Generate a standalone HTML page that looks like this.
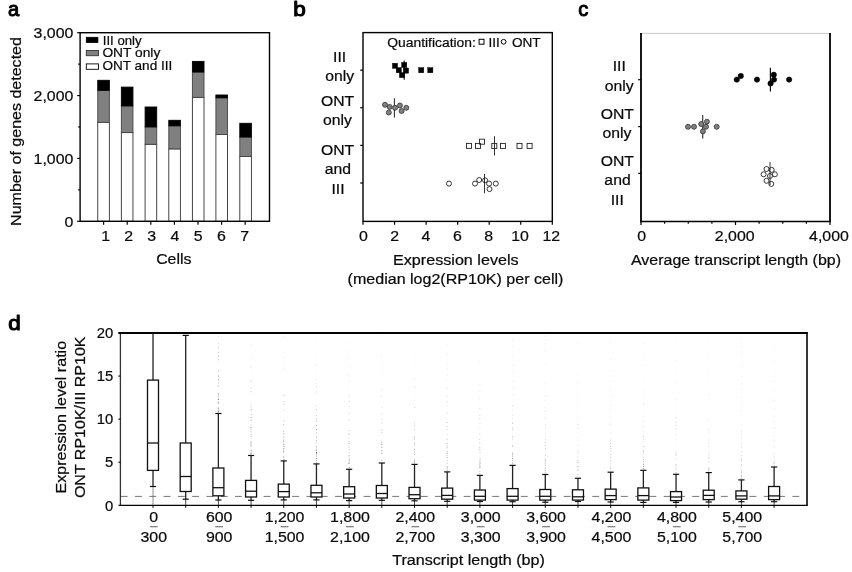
<!DOCTYPE html>
<html lang="en">
<head>
<meta charset="utf-8">
<title>Figure</title>
<style>
html,body{margin:0;padding:0;background:#fff;}
body{width:852px;height:572px;overflow:hidden;font-family:'Liberation Sans', sans-serif;}
svg{display:block;font-family:'Liberation Sans', sans-serif;will-change:transform;opacity:0.999;}
</style>
</head>
<body>
<svg width="852" height="572" viewBox="0 0 852 572">
<rect x="0" y="0" width="852" height="572" fill="#ffffff"/>
<text transform="translate(7.90,16.20) scale(0.96,1)" font-size="21.0" text-anchor="start" fill="#000" stroke="#000" stroke-width="1.0" stroke-linejoin="round">a</text>
<text transform="translate(293.30,16.00) scale(1.07,1)" font-size="21.0" text-anchor="start" fill="#000" stroke="#000" stroke-width="1.1" stroke-linejoin="round">b</text>
<text transform="translate(578.20,16.00) scale(0.96,1)" font-size="21.0" text-anchor="start" fill="#000" stroke="#000" stroke-width="1.0" stroke-linejoin="round">c</text>
<text transform="translate(8.30,330.30) scale(1.07,1)" font-size="21.0" text-anchor="start" fill="#000" stroke="#000" stroke-width="1.1" stroke-linejoin="round">d</text>
<rect x="97.75" y="122.30" width="11.60" height="99.00" fill="#fff" stroke="#333" stroke-width="0.9"/>
<rect x="97.75" y="90.30" width="11.60" height="32.00" fill="#808080" stroke="#444" stroke-width="0.9"/>
<rect x="97.75" y="80.30" width="11.60" height="10.00" fill="#000" stroke="#000" stroke-width="0.9"/>
<rect x="121.35" y="132.60" width="11.60" height="88.70" fill="#fff" stroke="#333" stroke-width="0.9"/>
<rect x="121.35" y="105.90" width="11.60" height="26.70" fill="#808080" stroke="#444" stroke-width="0.9"/>
<rect x="121.35" y="87.10" width="11.60" height="18.80" fill="#000" stroke="#000" stroke-width="0.9"/>
<rect x="145.10" y="144.30" width="11.60" height="77.00" fill="#fff" stroke="#333" stroke-width="0.9"/>
<rect x="145.10" y="126.90" width="11.60" height="17.40" fill="#808080" stroke="#444" stroke-width="0.9"/>
<rect x="145.10" y="107.00" width="11.60" height="19.90" fill="#000" stroke="#000" stroke-width="0.9"/>
<rect x="168.80" y="148.90" width="11.60" height="72.40" fill="#fff" stroke="#333" stroke-width="0.9"/>
<rect x="168.80" y="125.80" width="11.60" height="23.10" fill="#808080" stroke="#444" stroke-width="0.9"/>
<rect x="168.80" y="120.30" width="11.60" height="5.50" fill="#000" stroke="#000" stroke-width="0.9"/>
<rect x="192.40" y="97.40" width="11.60" height="123.90" fill="#fff" stroke="#333" stroke-width="0.9"/>
<rect x="192.40" y="72.00" width="11.60" height="25.40" fill="#808080" stroke="#444" stroke-width="0.9"/>
<rect x="192.40" y="61.40" width="11.60" height="10.60" fill="#000" stroke="#000" stroke-width="0.9"/>
<rect x="215.90" y="134.50" width="11.60" height="86.80" fill="#fff" stroke="#333" stroke-width="0.9"/>
<rect x="215.90" y="97.80" width="11.60" height="36.70" fill="#808080" stroke="#444" stroke-width="0.9"/>
<rect x="215.90" y="95.00" width="11.60" height="2.80" fill="#000" stroke="#000" stroke-width="0.9"/>
<rect x="239.80" y="156.50" width="11.60" height="64.80" fill="#fff" stroke="#333" stroke-width="0.9"/>
<rect x="239.80" y="137.00" width="11.60" height="19.50" fill="#808080" stroke="#444" stroke-width="0.9"/>
<rect x="239.80" y="123.30" width="11.60" height="13.70" fill="#000" stroke="#000" stroke-width="0.9"/>
<rect x="80.10" y="32.70" width="189.40" height="188.60" fill="none" stroke="#000" stroke-width="1.4"/>
<line x1="77.20" y1="221.30" x2="80.10" y2="221.30" stroke="#000" stroke-width="1.2" />
<line x1="78.20" y1="189.87" x2="80.10" y2="189.87" stroke="#000" stroke-width="1.2" />
<line x1="77.20" y1="158.43" x2="80.10" y2="158.43" stroke="#000" stroke-width="1.2" />
<line x1="78.20" y1="127.00" x2="80.10" y2="127.00" stroke="#000" stroke-width="1.2" />
<line x1="77.20" y1="95.57" x2="80.10" y2="95.57" stroke="#000" stroke-width="1.2" />
<line x1="78.20" y1="64.13" x2="80.10" y2="64.13" stroke="#000" stroke-width="1.2" />
<line x1="77.20" y1="32.70" x2="80.10" y2="32.70" stroke="#000" stroke-width="1.2" />
<text transform="translate(73.40,38.30) scale(1.04,1)" font-size="15.3" text-anchor="end" font-weight="normal" fill="#0a0a0a" stroke="#0a0a0a" stroke-width="0.22">3,000</text>
<text transform="translate(73.40,101.17) scale(1.04,1)" font-size="15.3" text-anchor="end" font-weight="normal" fill="#0a0a0a" stroke="#0a0a0a" stroke-width="0.22">2,000</text>
<text transform="translate(73.40,164.03) scale(1.04,1)" font-size="15.3" text-anchor="end" font-weight="normal" fill="#0a0a0a" stroke="#0a0a0a" stroke-width="0.22">1,000</text>
<text transform="translate(73.40,226.90) scale(1.04,1)" font-size="15.3" text-anchor="end" font-weight="normal" fill="#0a0a0a" stroke="#0a0a0a" stroke-width="0.22">0</text>
<line x1="103.60" y1="221.30" x2="103.60" y2="224.80" stroke="#000" stroke-width="1.2" />
<text transform="translate(105.70,241.10) scale(1.04,1)" font-size="15.3" text-anchor="middle" font-weight="normal" fill="#0a0a0a" stroke="#0a0a0a" stroke-width="0.22">1</text>
<line x1="127.20" y1="221.30" x2="127.20" y2="224.80" stroke="#000" stroke-width="1.2" />
<text transform="translate(128.60,241.10) scale(1.04,1)" font-size="15.3" text-anchor="middle" font-weight="normal" fill="#0a0a0a" stroke="#0a0a0a" stroke-width="0.22">2</text>
<line x1="150.80" y1="221.30" x2="150.80" y2="224.80" stroke="#000" stroke-width="1.2" />
<text transform="translate(151.80,241.10) scale(1.04,1)" font-size="15.3" text-anchor="middle" font-weight="normal" fill="#0a0a0a" stroke="#0a0a0a" stroke-width="0.22">3</text>
<line x1="174.40" y1="221.30" x2="174.40" y2="224.80" stroke="#000" stroke-width="1.2" />
<text transform="translate(175.00,241.10) scale(1.04,1)" font-size="15.3" text-anchor="middle" font-weight="normal" fill="#0a0a0a" stroke="#0a0a0a" stroke-width="0.22">4</text>
<line x1="198.00" y1="221.30" x2="198.00" y2="224.80" stroke="#000" stroke-width="1.2" />
<text transform="translate(198.20,241.10) scale(1.04,1)" font-size="15.3" text-anchor="middle" font-weight="normal" fill="#0a0a0a" stroke="#0a0a0a" stroke-width="0.22">5</text>
<line x1="221.60" y1="221.30" x2="221.60" y2="224.80" stroke="#000" stroke-width="1.2" />
<text transform="translate(221.40,241.10) scale(1.04,1)" font-size="15.3" text-anchor="middle" font-weight="normal" fill="#0a0a0a" stroke="#0a0a0a" stroke-width="0.22">6</text>
<line x1="245.20" y1="221.30" x2="245.20" y2="224.80" stroke="#000" stroke-width="1.2" />
<text transform="translate(244.60,241.10) scale(1.04,1)" font-size="15.3" text-anchor="middle" font-weight="normal" fill="#0a0a0a" stroke="#0a0a0a" stroke-width="0.22">7</text>
<text transform="translate(173.80,264.20) scale(1.04,1)" font-size="15.3" text-anchor="middle" font-weight="normal" fill="#0a0a0a" stroke="#0a0a0a" stroke-width="0.22">Cells</text>
<text transform="translate(20.80,131.50) rotate(-90) scale(1.048,1)" font-size="15.3" text-anchor="middle" font-weight="normal" fill="#0a0a0a" stroke="#0a0a0a" stroke-width="0.22">Number of genes detected</text>
<rect x="86.30" y="37.30" width="11.60" height="5.20" fill="#000" stroke="#000" stroke-width="0.8"/>
<rect x="86.30" y="50.50" width="12.20" height="5.20" fill="#808080" stroke="#333" stroke-width="0.9"/>
<rect x="86.30" y="63.90" width="12.20" height="5.40" fill="#fff" stroke="#000" stroke-width="0.9"/>
<text transform="translate(102.80,44.80) scale(1.015,1)" font-size="13.0" text-anchor="start" font-weight="normal" fill="#0a0a0a" stroke="#0a0a0a" stroke-width="0.22">III only</text>
<text transform="translate(102.40,57.40) scale(1.06,1)" font-size="13.0" text-anchor="start" font-weight="normal" fill="#0a0a0a" stroke="#0a0a0a" stroke-width="0.22">ONT only</text>
<text transform="translate(102.40,70.30) scale(1.045,1)" font-size="13.0" text-anchor="start" font-weight="normal" fill="#0a0a0a" stroke="#0a0a0a" stroke-width="0.22">ONT and III</text>
<rect x="363.00" y="32.60" width="189.30" height="188.80" fill="none" stroke="#000" stroke-width="1.4"/>
<line x1="363.00" y1="221.40" x2="363.00" y2="224.80" stroke="#000" stroke-width="1.2" />
<text transform="translate(363.40,241.40) scale(1.04,1)" font-size="15.3" text-anchor="middle" font-weight="normal" fill="#0a0a0a" stroke="#0a0a0a" stroke-width="0.22">0</text>
<line x1="394.55" y1="221.40" x2="394.55" y2="224.80" stroke="#000" stroke-width="1.2" />
<text transform="translate(394.72,241.40) scale(1.04,1)" font-size="15.3" text-anchor="middle" font-weight="normal" fill="#0a0a0a" stroke="#0a0a0a" stroke-width="0.22">2</text>
<line x1="426.10" y1="221.40" x2="426.10" y2="224.80" stroke="#000" stroke-width="1.2" />
<text transform="translate(426.04,241.40) scale(1.04,1)" font-size="15.3" text-anchor="middle" font-weight="normal" fill="#0a0a0a" stroke="#0a0a0a" stroke-width="0.22">4</text>
<line x1="457.65" y1="221.40" x2="457.65" y2="224.80" stroke="#000" stroke-width="1.2" />
<text transform="translate(457.36,241.40) scale(1.04,1)" font-size="15.3" text-anchor="middle" font-weight="normal" fill="#0a0a0a" stroke="#0a0a0a" stroke-width="0.22">6</text>
<line x1="489.20" y1="221.40" x2="489.20" y2="224.80" stroke="#000" stroke-width="1.2" />
<text transform="translate(488.68,241.40) scale(1.04,1)" font-size="15.3" text-anchor="middle" font-weight="normal" fill="#0a0a0a" stroke="#0a0a0a" stroke-width="0.22">8</text>
<line x1="520.75" y1="221.40" x2="520.75" y2="224.80" stroke="#000" stroke-width="1.2" />
<text transform="translate(520.00,241.40) scale(1.04,1)" font-size="15.3" text-anchor="middle" font-weight="normal" fill="#0a0a0a" stroke="#0a0a0a" stroke-width="0.22">10</text>
<line x1="552.30" y1="221.40" x2="552.30" y2="224.80" stroke="#000" stroke-width="1.2" />
<text transform="translate(551.32,241.40) scale(1.04,1)" font-size="15.3" text-anchor="middle" font-weight="normal" fill="#0a0a0a" stroke="#0a0a0a" stroke-width="0.22">12</text>
<line x1="360.20" y1="70.20" x2="363.00" y2="70.20" stroke="#000" stroke-width="1.2" />
<line x1="360.20" y1="107.70" x2="363.00" y2="107.70" stroke="#000" stroke-width="1.2" />
<line x1="360.20" y1="145.40" x2="363.00" y2="145.40" stroke="#000" stroke-width="1.2" />
<line x1="360.20" y1="183.00" x2="363.00" y2="183.00" stroke="#000" stroke-width="1.2" />
<text transform="translate(455.80,265.10) scale(1.055,1)" font-size="15.3" text-anchor="middle" font-weight="normal" fill="#0a0a0a" stroke="#0a0a0a" stroke-width="0.22">Expression levels</text>
<text transform="translate(455.50,284.00) scale(1.05,1)" font-size="15.3" text-anchor="middle" font-weight="normal" fill="#0a0a0a" stroke="#0a0a0a" stroke-width="0.22">(median log2(RP10K) per cell)</text>
<text transform="translate(339.60,61.50) scale(1.03,1)" font-size="15.3" text-anchor="middle" font-weight="normal" fill="#0a0a0a" stroke="#0a0a0a" stroke-width="0.22">III</text>
<text transform="translate(339.60,80.60) scale(1.03,1)" font-size="15.3" text-anchor="middle" font-weight="normal" fill="#0a0a0a" stroke="#0a0a0a" stroke-width="0.22">only</text>
<text transform="translate(337.50,106.00) scale(1.03,1)" font-size="15.3" text-anchor="middle" font-weight="normal" fill="#0a0a0a" stroke="#0a0a0a" stroke-width="0.22">ONT</text>
<text transform="translate(337.50,125.30) scale(1.03,1)" font-size="15.3" text-anchor="middle" font-weight="normal" fill="#0a0a0a" stroke="#0a0a0a" stroke-width="0.22">only</text>
<text transform="translate(337.50,155.30) scale(1.03,1)" font-size="15.3" text-anchor="middle" font-weight="normal" fill="#0a0a0a" stroke="#0a0a0a" stroke-width="0.22">ONT</text>
<text transform="translate(337.80,174.30) scale(1.03,1)" font-size="15.3" text-anchor="middle" font-weight="normal" fill="#0a0a0a" stroke="#0a0a0a" stroke-width="0.22">and</text>
<text transform="translate(338.00,193.60) scale(1.03,1)" font-size="15.3" text-anchor="middle" font-weight="normal" fill="#0a0a0a" stroke="#0a0a0a" stroke-width="0.22">III</text>
<text transform="translate(387.30,46.50) scale(1.02,1)" font-size="13.6" text-anchor="start" font-weight="normal" fill="#0a0a0a" stroke="#0a0a0a" stroke-width="0.22">Quantification:</text>
<rect x="479.10" y="39.30" width="4.90" height="4.90" fill="#fff" stroke="#000" stroke-width="1.0"/>
<text transform="translate(488.40,46.50) scale(1.0,1)" font-size="13.6" text-anchor="start" font-weight="normal" fill="#0a0a0a" stroke="#0a0a0a" stroke-width="0.22">III</text>
<circle cx="503.60" cy="41.80" r="2.40" fill="#fff" stroke="#000" stroke-width="1.0"/>
<text transform="translate(511.90,46.50) scale(1.0,1)" font-size="13.6" text-anchor="start" font-weight="normal" fill="#0a0a0a" stroke="#0a0a0a" stroke-width="0.22">ONT</text>
<line x1="404.20" y1="60.60" x2="404.20" y2="79.80" stroke="#111" stroke-width="1.15" />
<line x1="394.40" y1="98.20" x2="394.40" y2="117.40" stroke="#333" stroke-width="1.1" />
<line x1="494.50" y1="136.20" x2="494.50" y2="155.50" stroke="#333" stroke-width="1.0" />
<line x1="484.50" y1="174.00" x2="484.50" y2="193.30" stroke="#333" stroke-width="1.0" />
<rect x="392.40" y="63.20" width="5.20" height="5.20" fill="#000" stroke="#000" stroke-width="0.4"/>
<rect x="396.20" y="67.60" width="5.20" height="5.20" fill="#000" stroke="#000" stroke-width="0.4"/>
<rect x="399.40" y="72.50" width="5.20" height="5.20" fill="#000" stroke="#000" stroke-width="0.4"/>
<rect x="401.60" y="62.40" width="5.20" height="5.20" fill="#000" stroke="#000" stroke-width="0.4"/>
<rect x="403.40" y="68.00" width="5.20" height="5.20" fill="#000" stroke="#000" stroke-width="0.4"/>
<rect x="418.60" y="67.60" width="5.20" height="5.20" fill="#000" stroke="#000" stroke-width="0.4"/>
<rect x="427.70" y="67.60" width="5.20" height="5.20" fill="#000" stroke="#000" stroke-width="0.4"/>
<circle cx="385.00" cy="104.80" r="2.50" fill="#808080" stroke="#333" stroke-width="0.8"/>
<circle cx="389.70" cy="106.90" r="2.50" fill="#808080" stroke="#333" stroke-width="0.8"/>
<circle cx="388.80" cy="112.50" r="2.50" fill="#808080" stroke="#333" stroke-width="0.8"/>
<circle cx="395.00" cy="107.80" r="2.50" fill="#808080" stroke="#333" stroke-width="0.8"/>
<circle cx="399.90" cy="105.50" r="2.50" fill="#808080" stroke="#333" stroke-width="0.8"/>
<circle cx="401.60" cy="111.00" r="2.50" fill="#808080" stroke="#333" stroke-width="0.8"/>
<circle cx="406.30" cy="107.80" r="2.50" fill="#808080" stroke="#333" stroke-width="0.8"/>
<rect x="466.50" y="143.40" width="5.00" height="5.00" fill="none" stroke="#222" stroke-width="0.9"/>
<rect x="475.50" y="143.40" width="5.00" height="5.00" fill="none" stroke="#222" stroke-width="0.9"/>
<rect x="479.50" y="139.20" width="5.00" height="5.00" fill="none" stroke="#222" stroke-width="0.9"/>
<rect x="491.80" y="143.40" width="5.00" height="5.00" fill="none" stroke="#222" stroke-width="0.9"/>
<rect x="500.50" y="143.40" width="5.00" height="5.00" fill="none" stroke="#222" stroke-width="0.9"/>
<rect x="517.00" y="143.40" width="5.00" height="5.00" fill="none" stroke="#222" stroke-width="0.9"/>
<rect x="527.10" y="143.40" width="5.00" height="5.00" fill="none" stroke="#222" stroke-width="0.9"/>
<circle cx="449.00" cy="183.60" r="2.50" fill="none" stroke="#222" stroke-width="0.9"/>
<circle cx="475.00" cy="183.60" r="2.50" fill="none" stroke="#222" stroke-width="0.9"/>
<circle cx="479.20" cy="180.00" r="2.50" fill="none" stroke="#222" stroke-width="0.9"/>
<circle cx="485.10" cy="180.30" r="2.50" fill="none" stroke="#222" stroke-width="0.9"/>
<circle cx="489.10" cy="183.60" r="2.50" fill="none" stroke="#222" stroke-width="0.9"/>
<circle cx="489.50" cy="189.10" r="2.50" fill="none" stroke="#222" stroke-width="0.9"/>
<circle cx="495.80" cy="183.60" r="2.50" fill="none" stroke="#222" stroke-width="0.9"/>
<line x1="641.00" y1="33.40" x2="830.00" y2="33.40" stroke="#bdbdbd" stroke-width="0.8" />
<line x1="830.00" y1="32.90" x2="830.00" y2="221.50" stroke="#000" stroke-width="1.8" />
<line x1="641.00" y1="32.90" x2="641.00" y2="222.20" stroke="#000" stroke-width="1.8" />
<line x1="640.10" y1="221.50" x2="830.90" y2="221.50" stroke="#000" stroke-width="1.4" />
<line x1="641.00" y1="221.50" x2="641.00" y2="225.00" stroke="#000" stroke-width="1.2" />
<line x1="664.62" y1="221.50" x2="664.62" y2="223.80" stroke="#000" stroke-width="1.2" />
<line x1="688.25" y1="221.50" x2="688.25" y2="223.80" stroke="#000" stroke-width="1.2" />
<line x1="711.88" y1="221.50" x2="711.88" y2="223.80" stroke="#000" stroke-width="1.2" />
<line x1="735.50" y1="221.50" x2="735.50" y2="225.00" stroke="#000" stroke-width="1.2" />
<line x1="759.12" y1="221.50" x2="759.12" y2="223.80" stroke="#000" stroke-width="1.2" />
<line x1="782.75" y1="221.50" x2="782.75" y2="223.80" stroke="#000" stroke-width="1.2" />
<line x1="806.38" y1="221.50" x2="806.38" y2="223.80" stroke="#000" stroke-width="1.2" />
<line x1="830.00" y1="221.50" x2="830.00" y2="225.00" stroke="#000" stroke-width="1.2" />
<text transform="translate(641.80,241.30) scale(1.04,1)" font-size="15.3" text-anchor="middle" font-weight="normal" fill="#0a0a0a" stroke="#0a0a0a" stroke-width="0.22">0</text>
<text transform="translate(734.70,241.30) scale(1.04,1)" font-size="15.3" text-anchor="middle" font-weight="normal" fill="#0a0a0a" stroke="#0a0a0a" stroke-width="0.22">2,000</text>
<text transform="translate(829.00,241.30) scale(1.04,1)" font-size="15.3" text-anchor="middle" font-weight="normal" fill="#0a0a0a" stroke="#0a0a0a" stroke-width="0.22">4,000</text>
<line x1="638.20" y1="79.70" x2="641.00" y2="79.70" stroke="#000" stroke-width="1.2" />
<line x1="638.20" y1="126.60" x2="641.00" y2="126.60" stroke="#000" stroke-width="1.2" />
<line x1="638.20" y1="173.40" x2="641.00" y2="173.40" stroke="#000" stroke-width="1.2" />
<text transform="translate(736.00,265.40) scale(1.045,1)" font-size="15.3" text-anchor="middle" font-weight="normal" fill="#0a0a0a" stroke="#0a0a0a" stroke-width="0.22">Average transcript length (bp)</text>
<text transform="translate(619.30,70.90) scale(1.03,1)" font-size="15.3" text-anchor="middle" font-weight="normal" fill="#0a0a0a" stroke="#0a0a0a" stroke-width="0.22">III</text>
<text transform="translate(619.30,90.70) scale(1.03,1)" font-size="15.3" text-anchor="middle" font-weight="normal" fill="#0a0a0a" stroke="#0a0a0a" stroke-width="0.22">only</text>
<text transform="translate(617.30,119.20) scale(1.03,1)" font-size="15.3" text-anchor="middle" font-weight="normal" fill="#0a0a0a" stroke="#0a0a0a" stroke-width="0.22">ONT</text>
<text transform="translate(617.00,138.30) scale(1.03,1)" font-size="15.3" text-anchor="middle" font-weight="normal" fill="#0a0a0a" stroke="#0a0a0a" stroke-width="0.22">only</text>
<text transform="translate(617.30,166.00) scale(1.03,1)" font-size="15.3" text-anchor="middle" font-weight="normal" fill="#0a0a0a" stroke="#0a0a0a" stroke-width="0.22">ONT</text>
<text transform="translate(617.50,185.20) scale(1.03,1)" font-size="15.3" text-anchor="middle" font-weight="normal" fill="#0a0a0a" stroke="#0a0a0a" stroke-width="0.22">and</text>
<text transform="translate(617.20,205.00) scale(1.03,1)" font-size="15.3" text-anchor="middle" font-weight="normal" fill="#0a0a0a" stroke="#0a0a0a" stroke-width="0.22">III</text>
<line x1="770.40" y1="67.80" x2="770.40" y2="91.50" stroke="#111" stroke-width="1.2" />
<line x1="702.70" y1="115.00" x2="702.70" y2="138.50" stroke="#333" stroke-width="1.15" />
<line x1="770.00" y1="161.90" x2="770.00" y2="185.00" stroke="#333" stroke-width="1.0" />
<circle cx="736.80" cy="79.60" r="2.70" fill="#000" stroke="#000" stroke-width="0.5"/>
<circle cx="740.80" cy="76.00" r="2.70" fill="#000" stroke="#000" stroke-width="0.5"/>
<circle cx="757.00" cy="79.60" r="2.70" fill="#000" stroke="#000" stroke-width="0.5"/>
<circle cx="773.80" cy="74.80" r="2.70" fill="#000" stroke="#000" stroke-width="0.5"/>
<circle cx="774.00" cy="79.60" r="2.70" fill="#000" stroke="#000" stroke-width="0.5"/>
<circle cx="770.60" cy="83.40" r="2.70" fill="#000" stroke="#000" stroke-width="0.5"/>
<circle cx="789.10" cy="79.60" r="2.70" fill="#000" stroke="#000" stroke-width="0.5"/>
<circle cx="688.00" cy="126.80" r="2.50" fill="#808080" stroke="#333" stroke-width="0.8"/>
<circle cx="694.00" cy="126.80" r="2.50" fill="#808080" stroke="#333" stroke-width="0.8"/>
<circle cx="701.20" cy="124.00" r="2.50" fill="#808080" stroke="#333" stroke-width="0.8"/>
<circle cx="706.90" cy="121.70" r="2.50" fill="#808080" stroke="#333" stroke-width="0.8"/>
<circle cx="706.00" cy="126.80" r="2.50" fill="#808080" stroke="#333" stroke-width="0.8"/>
<circle cx="702.90" cy="131.40" r="2.50" fill="#808080" stroke="#333" stroke-width="0.8"/>
<circle cx="716.70" cy="126.80" r="2.50" fill="#808080" stroke="#333" stroke-width="0.8"/>
<circle cx="766.50" cy="169.00" r="2.50" fill="none" stroke="#222" stroke-width="0.9"/>
<circle cx="771.70" cy="169.90" r="2.50" fill="none" stroke="#222" stroke-width="0.9"/>
<circle cx="763.60" cy="174.30" r="2.50" fill="none" stroke="#222" stroke-width="0.9"/>
<circle cx="770.00" cy="176.00" r="2.50" fill="none" stroke="#222" stroke-width="0.9"/>
<circle cx="774.90" cy="174.30" r="2.50" fill="none" stroke="#222" stroke-width="0.9"/>
<circle cx="766.50" cy="180.80" r="2.50" fill="none" stroke="#222" stroke-width="0.9"/>
<circle cx="771.30" cy="183.90" r="2.50" fill="none" stroke="#222" stroke-width="0.9"/>
<line x1="153.00" y1="486.50" x2="153.00" y2="505.30" stroke="#333" stroke-width="0.9" stroke-dasharray="1.2 0.8"/>
<line x1="185.69" y1="499.20" x2="185.69" y2="505.30" stroke="#333" stroke-width="0.9" />
<line x1="218.38" y1="500.00" x2="218.38" y2="505.30" stroke="#333" stroke-width="0.9" />
<line x1="251.07" y1="500.30" x2="251.07" y2="505.30" stroke="#333" stroke-width="0.9" />
<line x1="283.76" y1="499.90" x2="283.76" y2="505.30" stroke="#333" stroke-width="0.9" />
<line x1="316.45" y1="499.90" x2="316.45" y2="505.30" stroke="#333" stroke-width="0.9" />
<line x1="349.14" y1="500.60" x2="349.14" y2="505.30" stroke="#333" stroke-width="0.9" />
<line x1="381.83" y1="500.30" x2="381.83" y2="505.30" stroke="#333" stroke-width="0.9" />
<line x1="414.52" y1="500.80" x2="414.52" y2="505.30" stroke="#333" stroke-width="0.9" />
<line x1="447.21" y1="501.30" x2="447.21" y2="505.30" stroke="#333" stroke-width="0.9" />
<line x1="479.90" y1="501.50" x2="479.90" y2="505.30" stroke="#333" stroke-width="0.9" />
<line x1="512.59" y1="501.70" x2="512.59" y2="505.30" stroke="#333" stroke-width="0.9" />
<line x1="545.28" y1="502.20" x2="545.28" y2="505.30" stroke="#333" stroke-width="0.9" />
<line x1="577.97" y1="501.50" x2="577.97" y2="505.30" stroke="#333" stroke-width="0.9" />
<line x1="610.66" y1="502.00" x2="610.66" y2="505.30" stroke="#333" stroke-width="0.9" />
<line x1="643.35" y1="502.40" x2="643.35" y2="505.30" stroke="#333" stroke-width="0.9" />
<line x1="676.04" y1="502.40" x2="676.04" y2="505.30" stroke="#333" stroke-width="0.9" />
<line x1="708.73" y1="502.00" x2="708.73" y2="505.30" stroke="#333" stroke-width="0.9" />
<line x1="741.42" y1="501.70" x2="741.42" y2="505.30" stroke="#333" stroke-width="0.9" />
<line x1="774.11" y1="501.70" x2="774.11" y2="505.30" stroke="#333" stroke-width="0.9" />
<path d="M217.8 336.5h.9M250.7 374.2h.9M250.8 359.1h.9M250.5 344.6h.9M283.3 368.5h.9M283.4 362.8h.9M283.2 358.7h.9M283.2 352.6h.9M283.4 336.6h.9M316.0 383.3h.9M315.9 379.6h.9M316.0 372.7h.9M316.0 354.6h.9M315.9 340.9h.9M348.5 387.8h.9M348.6 381.5h.9M348.5 375.7h.9M348.8 367.1h.9M348.7 358.2h.9M348.6 350.8h.9M348.6 342.8h.9M381.4 373.1h.9M381.4 365.0h.9M381.2 355.8h.9M381.3 336.0h.9M414.0 401.2h.9M413.9 396.2h.9M414.2 362.5h.9M414.2 357.7h.9M446.6 406.0h.9M446.7 380.6h.9M446.8 375.1h.9M446.8 369.3h.9M446.8 363.3h.9M446.7 354.4h.9M446.7 344.9h.9M479.5 428.6h.9M479.4 402.9h.9M479.3 398.8h.9M479.5 391.4h.9M479.4 384.2h.9M479.4 361.8h.9M512.1 418.1h.9M512.1 409.6h.9M512.0 394.9h.9M512.2 387.8h.9M512.1 381.2h.9M512.1 371.4h.9M512.0 365.2h.9M512.0 356.5h.9M512.2 346.7h.9M512.0 339.7h.9M545.0 436.9h.9M544.7 433.3h.9M544.9 407.2h.9M544.8 400.2h.9M544.7 395.7h.9M544.8 389.7h.9M544.8 383.6h.9M544.8 363.0h.9M544.8 351.4h.9M544.9 343.7h.9M544.9 336.0h.9M577.6 441.5h.9M577.6 438.2h.9M577.4 432.5h.9M577.7 416.9h.9M577.4 409.4h.9M577.5 402.1h.9M577.6 397.9h.9M577.4 390.6h.9M577.6 382.0h.9M577.5 374.0h.9M577.5 343.2h.9M610.2 432.9h.9M610.3 429.5h.9M610.3 417.1h.9M610.2 410.0h.9M610.3 405.8h.9M610.2 400.6h.9M610.1 395.6h.9M610.2 390.0h.9M610.3 381.4h.9M610.3 370.7h.9M610.2 359.4h.9M610.1 341.9h.9M642.9 441.8h.9M642.9 430.7h.9M642.8 416.9h.9M642.8 409.7h.9M642.9 397.8h.9M643.0 390.0h.9M642.8 379.8h.9M643.0 365.3h.9M643.0 354.9h.9M643.0 343.8h.9M675.5 451.4h.9M675.5 444.2h.9M675.7 439.5h.9M675.6 411.5h.9M675.7 405.4h.9M675.6 399.3h.9M675.5 382.8h.9M675.5 370.6h.9M675.6 360.1h.9M675.7 341.5h.9M708.4 433.2h.9M708.2 420.1h.9M708.2 399.8h.9M708.4 395.0h.9M708.2 382.4h.9M708.3 370.2h.9M708.3 356.7h.9M708.2 340.4h.9M740.9 425.1h.9M741.1 410.9h.9M741.1 406.5h.9M740.9 402.1h.9M740.9 397.5h.9M741.0 389.7h.9M741.0 383.6h.9M741.0 376.6h.9M741.0 366.7h.9M740.9 354.0h.9M741.0 346.6h.9M741.1 338.9h.9M773.7 435.4h.9M773.7 432.3h.9M773.7 422.0h.9M773.6 416.7h.9M773.6 408.5h.9M773.8 391.0h.9M773.6 381.3h.9M773.8 373.0h.9M773.7 361.1h.9M773.6 346.6h.9" stroke="#333" stroke-width="1.0" fill="none" opacity="0.12"/>
<path d="M218.0 361.8h.9M218.0 343.6h.9M250.8 424.4h.9M250.7 404.3h.9M250.7 388.0h.9M250.5 366.9h.9M283.4 410.1h.9M283.3 404.4h.9M283.4 401.5h.9M316.1 418.7h.9M316.1 415.4h.9M316.0 405.9h.9M316.0 392.2h.9M316.0 386.7h.9M315.9 364.7h.9M348.6 438.1h.9M348.8 419.7h.9M348.6 413.4h.9M348.6 406.7h.9M348.6 395.7h.9M381.3 419.5h.9M381.4 413.6h.9M381.3 407.6h.9M381.2 396.4h.9M381.4 389.7h.9M414.0 429.6h.9M414.2 407.4h.9M414.0 387.4h.9M413.9 379.2h.9M446.7 434.5h.9M446.7 429.7h.9M446.9 413.2h.9M446.9 401.7h.9M446.7 396.3h.9M446.8 388.3h.9M479.3 434.1h.9M479.5 423.4h.9M479.4 418.7h.9M479.4 415.6h.9M479.4 408.8h.9M512.1 439.0h.9M512.1 427.4h.9M512.2 415.0h.9M512.0 405.9h.9M544.9 458.8h.9M545.0 439.7h.9M544.9 428.1h.9M544.9 425.0h.9M544.9 418.6h.9M544.7 411.2h.9M577.5 476.7h.9M577.5 456.7h.9M577.6 450.0h.9M577.6 445.7h.9M577.5 428.3h.9M577.4 424.5h.9M610.3 470.6h.9M610.3 464.1h.9M610.3 451.0h.9M610.2 443.6h.9M610.1 440.2h.9M610.1 424.3h.9M642.8 457.1h.9M642.8 454.5h.9M643.0 439.6h.9M642.9 426.8h.9M642.9 421.8h.9M643.0 403.5h.9M675.6 467.6h.9M675.6 459.1h.9M675.5 434.4h.9M675.7 429.3h.9M675.4 425.3h.9M675.5 422.1h.9M675.7 417.4h.9M708.4 461.7h.9M708.4 455.8h.9M708.4 453.0h.9M708.3 446.1h.9M708.3 443.4h.9M708.3 440.0h.9M708.3 429.9h.9M741.1 475.0h.9M740.9 469.1h.9M740.9 466.3h.9M741.0 455.7h.9M740.8 451.8h.9M741.1 447.3h.9M740.9 443.9h.9M741.0 438.1h.9M741.1 433.9h.9M740.9 430.6h.9M773.6 459.1h.9M773.8 456.9h.9M773.6 453.7h.9M773.7 446.4h.9M773.6 440.2h.9M773.8 427.7h.9M773.6 400.2h.9" stroke="#333" stroke-width="1.0" fill="none" opacity="0.22"/>
<path d="M218.0 398.1h.9M218.0 382.9h.9M217.8 371.2h.9M217.8 359.3h.9M217.9 356.6h.9M217.9 352.5h.9M218.0 347.6h.9M250.5 441.4h.9M250.6 436.7h.9M250.8 434.4h.9M250.5 429.3h.9M250.8 414.7h.9M250.5 406.8h.9M250.5 391.8h.9M250.7 381.1h.9M283.2 441.7h.9M283.3 431.5h.9M283.3 420.8h.9M283.4 395.5h.9M315.9 447.8h.9M315.9 446.2h.9M315.9 443.1h.9M315.9 440.7h.9M316.0 433.0h.9M316.0 421.2h.9M315.9 409.7h.9M348.8 458.0h.9M348.6 452.9h.9M348.8 449.9h.9M348.7 447.2h.9M348.6 441.5h.9M348.6 430.5h.9M348.8 401.3h.9M381.3 432.6h.9M381.3 430.4h.9M381.4 423.1h.9M414.1 459.2h.9M414.2 454.5h.9M414.1 451.9h.9M414.0 445.8h.9M414.2 439.7h.9M414.0 425.3h.9M413.9 422.3h.9M446.9 468.9h.9M446.8 463.3h.9M446.8 460.4h.9M446.6 455.3h.9M446.9 451.7h.9M446.7 445.9h.9M446.8 443.4h.9M446.6 439.2h.9M446.7 426.7h.9M446.7 422.6h.9M479.4 471.5h.9M479.4 468.0h.9M479.6 460.3h.9M479.6 458.6h.9M479.6 452.7h.9M479.4 447.6h.9M479.4 443.1h.9M479.3 439.7h.9M512.3 463.8h.9M512.0 462.7h.9M512.0 460.4h.9M512.0 456.4h.9M512.2 436.6h.9M512.0 429.8h.9M512.1 423.2h.9M544.7 469.0h.9M544.9 467.8h.9M544.9 455.1h.9M545.0 449.2h.9M544.9 445.9h.9M544.8 442.6h.9M577.5 474.6h.9M577.5 470.6h.9M577.6 469.2h.9M577.5 460.5h.9M577.5 452.9h.9M610.2 468.6h.9M610.3 466.8h.9M610.3 460.8h.9M610.2 457.4h.9M610.3 454.7h.9M610.3 448.6h.9M610.1 446.4h.9M643.0 459.6h.9M643.0 451.8h.9M642.9 450.1h.9M642.9 446.5h.9M642.9 436.3h.9M675.7 469.7h.9M675.7 465.9h.9M675.5 464.5h.9M675.6 455.3h.9M675.5 453.3h.9M708.2 471.0h.9M708.4 469.4h.9M708.3 457.8h.9M741.0 472.7h.9M740.9 471.3h.9M741.1 464.6h.9M741.0 460.9h.9M741.0 458.9h.9M773.8 465.4h.9M773.6 461.4h.9" stroke="#333" stroke-width="1.0" fill="none" opacity="0.35"/>
<path d="M217.8 409.1h.9M217.8 401.8h.9M217.9 395.9h.9M217.8 385.9h.9M218.0 379.6h.9M218.0 376.0h.9M250.5 444.1h.9M250.6 442.8h.9M250.5 431.8h.9M250.6 420.2h.9M250.7 417.7h.9M250.7 409.8h.9M283.3 450.1h.9M283.4 448.4h.9M283.4 446.4h.9M283.3 437.0h.9M283.3 433.9h.9M283.3 425.0h.9M316.1 462.3h.9M316.1 460.2h.9M316.1 456.1h.9M316.0 437.2h.9M316.0 429.7h.9M316.1 425.6h.9M348.8 462.2h.9M348.6 455.7h.9M348.6 443.6h.9M348.6 434.2h.9M381.3 460.1h.9M381.2 453.4h.9M381.4 450.9h.9M381.3 447.3h.9M381.3 442.1h.9M414.1 449.2h.9M414.2 443.2h.9M414.0 437.1h.9M446.7 470.3h.9M446.7 457.5h.9M446.6 453.4h.9M446.6 447.9h.9M479.4 473.8h.9M479.3 464.9h.9M479.6 463.6h.9M479.5 462.0h.9M479.5 449.9h.9M512.1 458.5h.9M512.3 454.9h.9M512.1 453.2h.9M512.1 446.0h.9M544.7 472.9h.9M544.9 470.7h.9M544.8 465.1h.9M544.8 463.0h.9M544.9 460.3h.9M577.5 466.5h.9M577.4 462.7h.9M642.8 468.7h.9M643.0 466.4h.9M643.0 464.4h.9M643.0 461.9h.9M675.5 472.7h.9M708.4 468.3h.9M740.8 478.3h.9M741.1 476.2h.9M773.6 463.7h.9" stroke="#333" stroke-width="1.0" fill="none" opacity="0.5"/>
<path d="M218.0 411.9h.9M217.8 410.9h.9M217.8 408.0h.9M217.8 403.2h.9M217.9 399.5h.9M217.9 393.8h.9M250.5 453.9h.9M250.6 452.9h.9M250.7 450.6h.9M250.6 446.0h.9M250.5 427.6h.9M283.4 459.3h.9M283.3 457.0h.9M283.2 451.8h.9M283.3 444.2h.9M283.3 440.2h.9M315.9 458.3h.9M316.1 453.8h.9M316.0 452.5h.9M315.9 450.2h.9M348.8 467.7h.9M348.5 463.5h.9M348.7 460.1h.9M381.4 444.3h.9M413.9 462.8h.9M414.0 461.1h.9M446.7 467.0h.9M479.5 466.9h.9" stroke="#333" stroke-width="1.0" fill="none" opacity="0.7"/>
<line x1="120.70" y1="496.40" x2="799.30" y2="496.40" stroke="#666" stroke-width="0.9" stroke-dasharray="6.9 7.39"/>
<line x1="120.40" y1="333.00" x2="120.40" y2="505.30" stroke="#333" stroke-width="1.3" />
<line x1="807.00" y1="333.00" x2="807.00" y2="505.90" stroke="#222" stroke-width="1.8" />
<line x1="119.90" y1="505.30" x2="807.60" y2="505.30" stroke="#000" stroke-width="1.3" />
<line x1="118.30" y1="333.00" x2="807.90" y2="333.00" stroke="#000" stroke-width="2.0" />
<line x1="118.40" y1="505.30" x2="120.40" y2="505.30" stroke="#000" stroke-width="1.1" />
<text transform="translate(113.20,510.50) scale(1.0,1)" font-size="14.8" text-anchor="end" font-weight="normal" fill="#0a0a0a" stroke="#0a0a0a" stroke-width="0.22">0</text>
<line x1="118.40" y1="462.23" x2="120.40" y2="462.23" stroke="#000" stroke-width="1.1" />
<text transform="translate(113.20,467.43) scale(1.0,1)" font-size="14.8" text-anchor="end" font-weight="normal" fill="#0a0a0a" stroke="#0a0a0a" stroke-width="0.22">5</text>
<line x1="118.40" y1="419.15" x2="120.40" y2="419.15" stroke="#000" stroke-width="1.1" />
<text transform="translate(113.20,424.35) scale(1.0,1)" font-size="14.8" text-anchor="end" font-weight="normal" fill="#0a0a0a" stroke="#0a0a0a" stroke-width="0.22">10</text>
<line x1="118.40" y1="376.07" x2="120.40" y2="376.07" stroke="#000" stroke-width="1.1" />
<text transform="translate(113.20,381.27) scale(1.0,1)" font-size="14.8" text-anchor="end" font-weight="normal" fill="#0a0a0a" stroke="#0a0a0a" stroke-width="0.22">15</text>
<text transform="translate(113.20,338.20) scale(1.0,1)" font-size="14.8" text-anchor="end" font-weight="normal" fill="#0a0a0a" stroke="#0a0a0a" stroke-width="0.22">20</text>
<text transform="translate(66.30,417.20) rotate(-90) scale(1.05,1)" font-size="15.3" text-anchor="middle" font-weight="normal" fill="#0a0a0a" stroke="#0a0a0a" stroke-width="0.22">Expression level ratio</text>
<text transform="translate(84.60,417.30) rotate(-90) scale(1.047,1)" font-size="15.3" text-anchor="middle" font-weight="normal" fill="#0a0a0a" stroke="#0a0a0a" stroke-width="0.22">ONT RP10K/III RP10K</text>
<line x1="153.00" y1="333.00" x2="153.00" y2="380.10" stroke="#222" stroke-width="1.3" />
<line x1="153.00" y1="470.40" x2="153.00" y2="486.50" stroke="#222" stroke-width="1.3" />
<line x1="149.90" y1="486.50" x2="156.10" y2="486.50" stroke="#111" stroke-width="1.2" />
<rect x="147.50" y="380.10" width="11.00" height="90.30" fill="#fff" stroke="#111" stroke-width="1.3"/>
<line x1="147.50" y1="443.00" x2="158.50" y2="443.00" stroke="#111" stroke-width="1.3" />
<line x1="153.00" y1="505.30" x2="153.00" y2="507.80" stroke="#111" stroke-width="1.1" />
<line x1="185.69" y1="335.40" x2="185.69" y2="443.00" stroke="#222" stroke-width="1.3" />
<line x1="185.69" y1="491.50" x2="185.69" y2="499.20" stroke="#222" stroke-width="1.3" />
<line x1="182.59" y1="335.40" x2="188.79" y2="335.40" stroke="#111" stroke-width="1.2" />
<line x1="182.59" y1="499.20" x2="188.79" y2="499.20" stroke="#111" stroke-width="1.2" />
<rect x="180.19" y="443.00" width="11.00" height="48.50" fill="#fff" stroke="#111" stroke-width="1.3"/>
<line x1="180.19" y1="476.50" x2="191.19" y2="476.50" stroke="#111" stroke-width="1.3" />
<line x1="185.69" y1="505.30" x2="185.69" y2="507.80" stroke="#111" stroke-width="1.1" />
<line x1="218.38" y1="413.50" x2="218.38" y2="468.00" stroke="#222" stroke-width="1.3" />
<line x1="218.38" y1="495.80" x2="218.38" y2="500.00" stroke="#222" stroke-width="1.3" />
<line x1="215.28" y1="413.50" x2="221.48" y2="413.50" stroke="#111" stroke-width="1.2" />
<line x1="215.28" y1="500.00" x2="221.48" y2="500.00" stroke="#111" stroke-width="1.2" />
<rect x="212.88" y="468.00" width="11.00" height="27.80" fill="#fff" stroke="#111" stroke-width="1.3"/>
<line x1="212.88" y1="487.70" x2="223.88" y2="487.70" stroke="#111" stroke-width="1.3" />
<line x1="218.38" y1="505.30" x2="218.38" y2="507.80" stroke="#111" stroke-width="1.1" />
<line x1="251.07" y1="455.50" x2="251.07" y2="480.40" stroke="#222" stroke-width="1.3" />
<line x1="251.07" y1="497.00" x2="251.07" y2="500.30" stroke="#222" stroke-width="1.3" />
<line x1="247.97" y1="455.50" x2="254.17" y2="455.50" stroke="#111" stroke-width="1.2" />
<line x1="247.97" y1="500.30" x2="254.17" y2="500.30" stroke="#111" stroke-width="1.2" />
<rect x="245.57" y="480.40" width="11.00" height="16.60" fill="#fff" stroke="#111" stroke-width="1.3"/>
<line x1="245.57" y1="491.20" x2="256.57" y2="491.20" stroke="#111" stroke-width="1.3" />
<line x1="251.07" y1="505.30" x2="251.07" y2="507.80" stroke="#111" stroke-width="1.1" />
<line x1="283.76" y1="460.90" x2="283.76" y2="484.10" stroke="#222" stroke-width="1.3" />
<line x1="283.76" y1="497.00" x2="283.76" y2="499.90" stroke="#222" stroke-width="1.3" />
<line x1="280.66" y1="460.90" x2="286.86" y2="460.90" stroke="#111" stroke-width="1.2" />
<line x1="280.66" y1="499.90" x2="286.86" y2="499.90" stroke="#111" stroke-width="1.2" />
<rect x="278.26" y="484.10" width="11.00" height="12.90" fill="#fff" stroke="#111" stroke-width="1.3"/>
<line x1="278.26" y1="491.60" x2="289.26" y2="491.60" stroke="#111" stroke-width="1.3" />
<line x1="283.76" y1="505.30" x2="283.76" y2="507.80" stroke="#111" stroke-width="1.1" />
<line x1="316.45" y1="463.90" x2="316.45" y2="485.30" stroke="#222" stroke-width="1.3" />
<line x1="316.45" y1="497.00" x2="316.45" y2="499.90" stroke="#222" stroke-width="1.3" />
<line x1="313.35" y1="463.90" x2="319.55" y2="463.90" stroke="#111" stroke-width="1.2" />
<line x1="313.35" y1="499.90" x2="319.55" y2="499.90" stroke="#111" stroke-width="1.2" />
<rect x="310.95" y="485.30" width="11.00" height="11.70" fill="#fff" stroke="#111" stroke-width="1.3"/>
<line x1="310.95" y1="492.80" x2="321.95" y2="492.80" stroke="#111" stroke-width="1.3" />
<line x1="316.45" y1="505.30" x2="316.45" y2="507.80" stroke="#111" stroke-width="1.1" />
<line x1="349.14" y1="469.30" x2="349.14" y2="486.70" stroke="#222" stroke-width="1.3" />
<line x1="349.14" y1="498.00" x2="349.14" y2="500.60" stroke="#222" stroke-width="1.3" />
<line x1="346.04" y1="469.30" x2="352.24" y2="469.30" stroke="#111" stroke-width="1.2" />
<line x1="346.04" y1="500.60" x2="352.24" y2="500.60" stroke="#111" stroke-width="1.2" />
<rect x="343.64" y="486.70" width="11.00" height="11.30" fill="#fff" stroke="#111" stroke-width="1.3"/>
<line x1="343.64" y1="494.00" x2="354.64" y2="494.00" stroke="#111" stroke-width="1.3" />
<line x1="349.14" y1="505.30" x2="349.14" y2="507.80" stroke="#111" stroke-width="1.1" />
<line x1="381.83" y1="463.00" x2="381.83" y2="485.50" stroke="#222" stroke-width="1.3" />
<line x1="381.83" y1="498.00" x2="381.83" y2="500.30" stroke="#222" stroke-width="1.3" />
<line x1="378.73" y1="463.00" x2="384.93" y2="463.00" stroke="#111" stroke-width="1.2" />
<line x1="378.73" y1="500.30" x2="384.93" y2="500.30" stroke="#111" stroke-width="1.2" />
<rect x="376.33" y="485.50" width="11.00" height="12.50" fill="#fff" stroke="#111" stroke-width="1.3"/>
<line x1="376.33" y1="493.50" x2="387.33" y2="493.50" stroke="#111" stroke-width="1.3" />
<line x1="381.83" y1="505.30" x2="381.83" y2="507.80" stroke="#111" stroke-width="1.1" />
<line x1="414.52" y1="464.40" x2="414.52" y2="487.40" stroke="#222" stroke-width="1.3" />
<line x1="414.52" y1="498.70" x2="414.52" y2="500.80" stroke="#222" stroke-width="1.3" />
<line x1="411.42" y1="464.40" x2="417.62" y2="464.40" stroke="#111" stroke-width="1.2" />
<line x1="411.42" y1="500.80" x2="417.62" y2="500.80" stroke="#111" stroke-width="1.2" />
<rect x="409.02" y="487.40" width="11.00" height="11.30" fill="#fff" stroke="#111" stroke-width="1.3"/>
<line x1="409.02" y1="494.70" x2="420.02" y2="494.70" stroke="#111" stroke-width="1.3" />
<line x1="414.52" y1="505.30" x2="414.52" y2="507.80" stroke="#111" stroke-width="1.1" />
<line x1="447.21" y1="471.90" x2="447.21" y2="488.10" stroke="#222" stroke-width="1.3" />
<line x1="447.21" y1="499.20" x2="447.21" y2="501.30" stroke="#222" stroke-width="1.3" />
<line x1="444.11" y1="471.90" x2="450.31" y2="471.90" stroke="#111" stroke-width="1.2" />
<line x1="444.11" y1="501.30" x2="450.31" y2="501.30" stroke="#111" stroke-width="1.2" />
<rect x="441.71" y="488.10" width="11.00" height="11.10" fill="#fff" stroke="#111" stroke-width="1.3"/>
<line x1="441.71" y1="495.40" x2="452.71" y2="495.40" stroke="#111" stroke-width="1.3" />
<line x1="447.21" y1="505.30" x2="447.21" y2="507.80" stroke="#111" stroke-width="1.1" />
<line x1="479.90" y1="475.40" x2="479.90" y2="490.00" stroke="#222" stroke-width="1.3" />
<line x1="479.90" y1="500.10" x2="479.90" y2="501.50" stroke="#222" stroke-width="1.3" />
<line x1="476.80" y1="475.40" x2="483.00" y2="475.40" stroke="#111" stroke-width="1.2" />
<line x1="476.80" y1="501.50" x2="483.00" y2="501.50" stroke="#111" stroke-width="1.2" />
<rect x="474.40" y="490.00" width="11.00" height="10.10" fill="#fff" stroke="#111" stroke-width="1.3"/>
<line x1="474.40" y1="496.30" x2="485.40" y2="496.30" stroke="#111" stroke-width="1.3" />
<line x1="479.90" y1="505.30" x2="479.90" y2="507.80" stroke="#111" stroke-width="1.1" />
<line x1="512.59" y1="465.40" x2="512.59" y2="488.60" stroke="#222" stroke-width="1.3" />
<line x1="512.59" y1="500.10" x2="512.59" y2="501.70" stroke="#222" stroke-width="1.3" />
<line x1="509.49" y1="465.40" x2="515.69" y2="465.40" stroke="#111" stroke-width="1.2" />
<line x1="509.49" y1="501.70" x2="515.69" y2="501.70" stroke="#111" stroke-width="1.2" />
<rect x="507.09" y="488.60" width="11.00" height="11.50" fill="#fff" stroke="#111" stroke-width="1.3"/>
<line x1="507.09" y1="496.30" x2="518.09" y2="496.30" stroke="#111" stroke-width="1.3" />
<line x1="512.59" y1="505.30" x2="512.59" y2="507.80" stroke="#111" stroke-width="1.1" />
<line x1="545.28" y1="474.50" x2="545.28" y2="489.50" stroke="#222" stroke-width="1.3" />
<line x1="545.28" y1="500.10" x2="545.28" y2="502.20" stroke="#222" stroke-width="1.3" />
<line x1="542.18" y1="474.50" x2="548.38" y2="474.50" stroke="#111" stroke-width="1.2" />
<line x1="542.18" y1="502.20" x2="548.38" y2="502.20" stroke="#111" stroke-width="1.2" />
<rect x="539.78" y="489.50" width="11.00" height="10.60" fill="#fff" stroke="#111" stroke-width="1.3"/>
<line x1="539.78" y1="496.30" x2="550.78" y2="496.30" stroke="#111" stroke-width="1.3" />
<line x1="545.28" y1="505.30" x2="545.28" y2="507.80" stroke="#111" stroke-width="1.1" />
<line x1="577.97" y1="478.30" x2="577.97" y2="489.80" stroke="#222" stroke-width="1.3" />
<line x1="577.97" y1="500.10" x2="577.97" y2="501.50" stroke="#222" stroke-width="1.3" />
<line x1="574.87" y1="478.30" x2="581.07" y2="478.30" stroke="#111" stroke-width="1.2" />
<line x1="574.87" y1="501.50" x2="581.07" y2="501.50" stroke="#111" stroke-width="1.2" />
<rect x="572.47" y="489.80" width="11.00" height="10.30" fill="#fff" stroke="#111" stroke-width="1.3"/>
<line x1="572.47" y1="496.80" x2="583.47" y2="496.80" stroke="#111" stroke-width="1.3" />
<line x1="577.97" y1="505.30" x2="577.97" y2="507.80" stroke="#111" stroke-width="1.1" />
<line x1="610.66" y1="472.20" x2="610.66" y2="489.10" stroke="#222" stroke-width="1.3" />
<line x1="610.66" y1="499.60" x2="610.66" y2="502.00" stroke="#222" stroke-width="1.3" />
<line x1="607.56" y1="472.20" x2="613.76" y2="472.20" stroke="#111" stroke-width="1.2" />
<line x1="607.56" y1="502.00" x2="613.76" y2="502.00" stroke="#111" stroke-width="1.2" />
<rect x="605.16" y="489.10" width="11.00" height="10.50" fill="#fff" stroke="#111" stroke-width="1.3"/>
<line x1="605.16" y1="495.60" x2="616.16" y2="495.60" stroke="#111" stroke-width="1.3" />
<line x1="610.66" y1="505.30" x2="610.66" y2="507.80" stroke="#111" stroke-width="1.1" />
<line x1="643.35" y1="470.30" x2="643.35" y2="487.90" stroke="#222" stroke-width="1.3" />
<line x1="643.35" y1="500.10" x2="643.35" y2="502.40" stroke="#222" stroke-width="1.3" />
<line x1="640.25" y1="470.30" x2="646.45" y2="470.30" stroke="#111" stroke-width="1.2" />
<line x1="640.25" y1="502.40" x2="646.45" y2="502.40" stroke="#111" stroke-width="1.2" />
<rect x="637.85" y="487.90" width="11.00" height="12.20" fill="#fff" stroke="#111" stroke-width="1.3"/>
<line x1="637.85" y1="495.60" x2="648.85" y2="495.60" stroke="#111" stroke-width="1.3" />
<line x1="643.35" y1="505.30" x2="643.35" y2="507.80" stroke="#111" stroke-width="1.1" />
<line x1="676.04" y1="474.30" x2="676.04" y2="491.60" stroke="#222" stroke-width="1.3" />
<line x1="676.04" y1="500.60" x2="676.04" y2="502.40" stroke="#222" stroke-width="1.3" />
<line x1="672.94" y1="474.30" x2="679.14" y2="474.30" stroke="#111" stroke-width="1.2" />
<line x1="672.94" y1="502.40" x2="679.14" y2="502.40" stroke="#111" stroke-width="1.2" />
<rect x="670.54" y="491.60" width="11.00" height="9.00" fill="#fff" stroke="#111" stroke-width="1.3"/>
<line x1="670.54" y1="497.00" x2="681.54" y2="497.00" stroke="#111" stroke-width="1.3" />
<line x1="676.04" y1="505.30" x2="676.04" y2="507.80" stroke="#111" stroke-width="1.1" />
<line x1="708.73" y1="472.60" x2="708.73" y2="490.20" stroke="#222" stroke-width="1.3" />
<line x1="708.73" y1="499.60" x2="708.73" y2="502.00" stroke="#222" stroke-width="1.3" />
<line x1="705.63" y1="472.60" x2="711.83" y2="472.60" stroke="#111" stroke-width="1.2" />
<line x1="705.63" y1="502.00" x2="711.83" y2="502.00" stroke="#111" stroke-width="1.2" />
<rect x="703.23" y="490.20" width="11.00" height="9.40" fill="#fff" stroke="#111" stroke-width="1.3"/>
<line x1="703.23" y1="495.40" x2="714.23" y2="495.40" stroke="#111" stroke-width="1.3" />
<line x1="708.73" y1="505.30" x2="708.73" y2="507.80" stroke="#111" stroke-width="1.1" />
<line x1="741.42" y1="479.90" x2="741.42" y2="490.90" stroke="#222" stroke-width="1.3" />
<line x1="741.42" y1="499.20" x2="741.42" y2="501.70" stroke="#222" stroke-width="1.3" />
<line x1="738.32" y1="479.90" x2="744.52" y2="479.90" stroke="#111" stroke-width="1.2" />
<line x1="738.32" y1="501.70" x2="744.52" y2="501.70" stroke="#111" stroke-width="1.2" />
<rect x="735.92" y="490.90" width="11.00" height="8.30" fill="#fff" stroke="#111" stroke-width="1.3"/>
<line x1="735.92" y1="495.90" x2="746.92" y2="495.90" stroke="#111" stroke-width="1.3" />
<line x1="741.42" y1="505.30" x2="741.42" y2="507.80" stroke="#111" stroke-width="1.1" />
<line x1="774.11" y1="467.00" x2="774.11" y2="486.50" stroke="#222" stroke-width="1.3" />
<line x1="774.11" y1="499.60" x2="774.11" y2="501.70" stroke="#222" stroke-width="1.3" />
<line x1="771.01" y1="467.00" x2="777.21" y2="467.00" stroke="#111" stroke-width="1.2" />
<line x1="771.01" y1="501.70" x2="777.21" y2="501.70" stroke="#111" stroke-width="1.2" />
<rect x="768.61" y="486.50" width="11.00" height="13.10" fill="#fff" stroke="#111" stroke-width="1.3"/>
<line x1="768.61" y1="495.90" x2="779.61" y2="495.90" stroke="#111" stroke-width="1.3" />
<line x1="774.11" y1="505.30" x2="774.11" y2="507.80" stroke="#111" stroke-width="1.1" />
<text transform="translate(153.80,522.40) scale(1.04,1)" font-size="15.3" text-anchor="middle" font-weight="normal" fill="#0a0a0a" stroke="#0a0a0a" stroke-width="0.22">0</text>
<text transform="translate(153.80,542.40) scale(1.04,1)" font-size="15.3" text-anchor="middle" font-weight="normal" fill="#0a0a0a" stroke="#0a0a0a" stroke-width="0.22">300</text>
<line x1="149.90" y1="526.70" x2="157.70" y2="526.70" stroke="#777" stroke-width="1.2" />
<text transform="translate(219.18,522.40) scale(1.04,1)" font-size="15.3" text-anchor="middle" font-weight="normal" fill="#0a0a0a" stroke="#0a0a0a" stroke-width="0.22">600</text>
<text transform="translate(219.18,542.40) scale(1.04,1)" font-size="15.3" text-anchor="middle" font-weight="normal" fill="#0a0a0a" stroke="#0a0a0a" stroke-width="0.22">900</text>
<line x1="215.28" y1="526.70" x2="223.08" y2="526.70" stroke="#777" stroke-width="1.2" />
<text transform="translate(284.56,522.40) scale(1.04,1)" font-size="15.3" text-anchor="middle" font-weight="normal" fill="#0a0a0a" stroke="#0a0a0a" stroke-width="0.22">1,200</text>
<text transform="translate(284.56,542.40) scale(1.04,1)" font-size="15.3" text-anchor="middle" font-weight="normal" fill="#0a0a0a" stroke="#0a0a0a" stroke-width="0.22">1,500</text>
<line x1="280.66" y1="526.70" x2="288.46" y2="526.70" stroke="#777" stroke-width="1.2" />
<text transform="translate(349.94,522.40) scale(1.04,1)" font-size="15.3" text-anchor="middle" font-weight="normal" fill="#0a0a0a" stroke="#0a0a0a" stroke-width="0.22">1,800</text>
<text transform="translate(349.94,542.40) scale(1.04,1)" font-size="15.3" text-anchor="middle" font-weight="normal" fill="#0a0a0a" stroke="#0a0a0a" stroke-width="0.22">2,100</text>
<line x1="346.04" y1="526.70" x2="353.84" y2="526.70" stroke="#777" stroke-width="1.2" />
<text transform="translate(415.32,522.40) scale(1.04,1)" font-size="15.3" text-anchor="middle" font-weight="normal" fill="#0a0a0a" stroke="#0a0a0a" stroke-width="0.22">2,400</text>
<text transform="translate(415.32,542.40) scale(1.04,1)" font-size="15.3" text-anchor="middle" font-weight="normal" fill="#0a0a0a" stroke="#0a0a0a" stroke-width="0.22">2,700</text>
<line x1="411.42" y1="526.70" x2="419.22" y2="526.70" stroke="#777" stroke-width="1.2" />
<text transform="translate(480.70,522.40) scale(1.04,1)" font-size="15.3" text-anchor="middle" font-weight="normal" fill="#0a0a0a" stroke="#0a0a0a" stroke-width="0.22">3,000</text>
<text transform="translate(480.70,542.40) scale(1.04,1)" font-size="15.3" text-anchor="middle" font-weight="normal" fill="#0a0a0a" stroke="#0a0a0a" stroke-width="0.22">3,300</text>
<line x1="476.80" y1="526.70" x2="484.60" y2="526.70" stroke="#777" stroke-width="1.2" />
<text transform="translate(546.08,522.40) scale(1.04,1)" font-size="15.3" text-anchor="middle" font-weight="normal" fill="#0a0a0a" stroke="#0a0a0a" stroke-width="0.22">3,600</text>
<text transform="translate(546.08,542.40) scale(1.04,1)" font-size="15.3" text-anchor="middle" font-weight="normal" fill="#0a0a0a" stroke="#0a0a0a" stroke-width="0.22">3,900</text>
<line x1="542.18" y1="526.70" x2="549.98" y2="526.70" stroke="#777" stroke-width="1.2" />
<text transform="translate(611.46,522.40) scale(1.04,1)" font-size="15.3" text-anchor="middle" font-weight="normal" fill="#0a0a0a" stroke="#0a0a0a" stroke-width="0.22">4,200</text>
<text transform="translate(611.46,542.40) scale(1.04,1)" font-size="15.3" text-anchor="middle" font-weight="normal" fill="#0a0a0a" stroke="#0a0a0a" stroke-width="0.22">4,500</text>
<line x1="607.56" y1="526.70" x2="615.36" y2="526.70" stroke="#777" stroke-width="1.2" />
<text transform="translate(676.84,522.40) scale(1.04,1)" font-size="15.3" text-anchor="middle" font-weight="normal" fill="#0a0a0a" stroke="#0a0a0a" stroke-width="0.22">4,800</text>
<text transform="translate(676.84,542.40) scale(1.04,1)" font-size="15.3" text-anchor="middle" font-weight="normal" fill="#0a0a0a" stroke="#0a0a0a" stroke-width="0.22">5,100</text>
<line x1="672.94" y1="526.70" x2="680.74" y2="526.70" stroke="#777" stroke-width="1.2" />
<text transform="translate(742.22,522.40) scale(1.04,1)" font-size="15.3" text-anchor="middle" font-weight="normal" fill="#0a0a0a" stroke="#0a0a0a" stroke-width="0.22">5,400</text>
<text transform="translate(742.22,542.40) scale(1.04,1)" font-size="15.3" text-anchor="middle" font-weight="normal" fill="#0a0a0a" stroke="#0a0a0a" stroke-width="0.22">5,700</text>
<line x1="738.32" y1="526.70" x2="746.12" y2="526.70" stroke="#777" stroke-width="1.2" />
<text transform="translate(468.50,565.30) scale(1.055,1)" font-size="15.3" text-anchor="middle" font-weight="normal" fill="#0a0a0a" stroke="#0a0a0a" stroke-width="0.22">Transcript length (bp)</text>
</svg>
</body>
</html>
